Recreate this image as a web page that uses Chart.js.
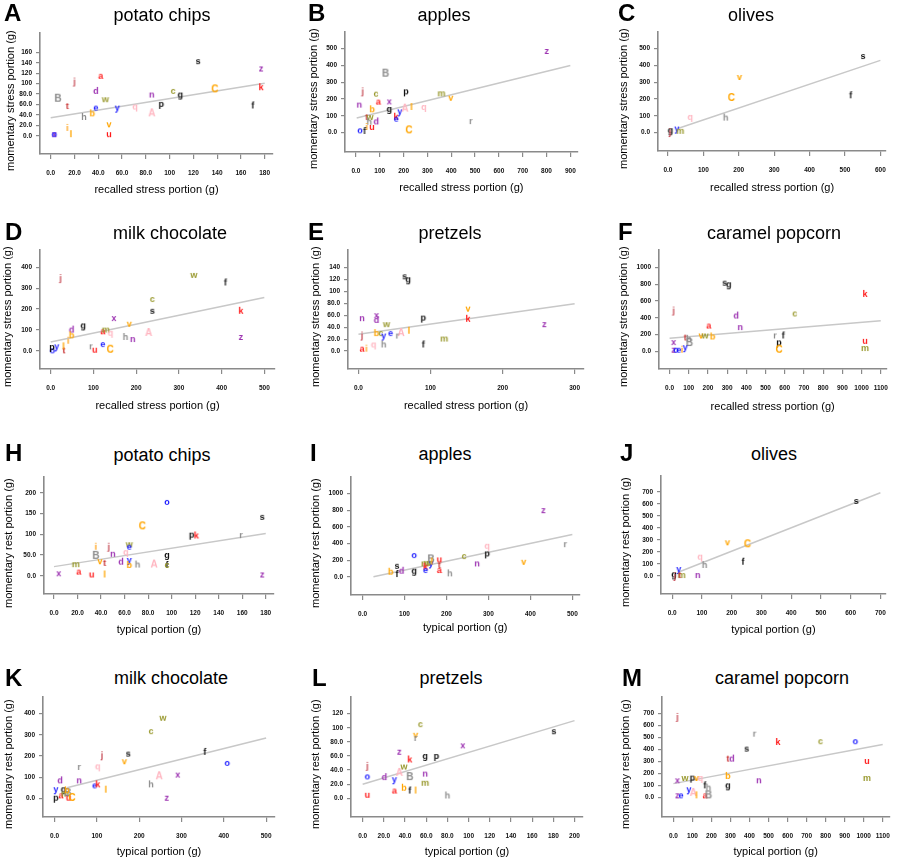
<!DOCTYPE html>
<html>
<head>
<meta charset="utf-8">
<script src="https://cdn.jsdelivr.net/npm/chart.js@4.4.0/dist/chart.umd.min.js"></script>
<style>
body{margin:0;background:#fff;width:898px;height:861px;overflow:hidden;position:relative;font-family:'Liberation Sans',Arial,sans-serif}
canvas{position:absolute}
.ttl{position:absolute;font-size:18px;transform:translate(-50%,-50%);white-space:nowrap;color:#000}
.tag{position:absolute;font-size:24px;font-weight:bold;transform:translateY(-50%);color:#000;line-height:1}
.ytl{position:absolute;width:14px;height:200px;font-size:11px;line-height:14px;white-space:nowrap;color:#000;
     writing-mode:vertical-rl;transform:rotate(180deg);text-align:center}
</style>
</head>
<body>
<script>
// --- data ---
// A: potato chips, recalled stress vs momentary stress
var idsA = ['s','z','k','C','c','g','n','a','j','d','w','B','t','e','y','q','p','f','h','b','A','v','i','l','x','o','u'];
var xA = [124,177,177,138,103,109,85,42,20,38,46,6,14,38,56,71,93,170,28,35,85,49,14,17,3,3,49];
var yA = [143,129,93,89,86,79,79,115,104,86,70,71,57,54,54,56,61,58,36,43,43,22,15,3,3,3,3];
var fitXA = [0,180], fitYA = [34.5,100.5];
var xTicksA = [0,20,40,60,80,100,120,140,160,180];
var yTicksA = [0,20,40,60,80,100,120,140,160];

// B: apples
var idsB = ['z','B','j','c','p','m','v','a','x','n','b','g','y','A','l','q','t','w','h','d','k','e','i','u','o','f','C','r'];
var xB = [801,124,28,84,210,359,398,94,140,14,68,140,184,205,233,285,45,59,56,85,168,169,45,67,17,36,222,482];
var yB = [486,351,246,232,246,234,208,185,186,167,139,141,127,143,153,153,93,93,65,67,95,83,34,34,14,10,14,69];
var fitXB = [3,900], fitYB = [87,400];
var xTicksB = [0,100,200,300,400,500,600,700,800,900];
var yTicksB = [0,100,200,300,400,500];

// C: olives
var idsC = ['s','v','C','f','q','h','y','m','g','j'];
var xC = [551,202,179,516,63,163,25,35,7,6];
var yC = [456,331,206,222,93,89,24,10,14,3];
var fitXC = [28,600], fitYC = [24,430];
var xTicksC = [0,100,200,300,400,500,600];
var yTicksC = [0,100,200,300,400,500];

// D: milk chocolate
var idsD = ['j','w','f','c','s','k','x','g','v','d','a','m','q','b','i','h','n','A','z','e','r','u','C','y','o','p','t','l'];
var xD = [23,335,409,238,238,445,148,76,184,49,122,129,140,49,41,175,192,229,445,122,94,103,139,14,4,3,31,30];
var yD = [348,363,327,248,192,192,157,122,130,102,94,102,87,75,49,67,57,86,67,33,22,6,6,22,3,19,3,22];
var fitXD = [0,500], fitYD = [43,255];
var xTicksD = [0,100,200,300,400,500];
var yTicksD = [0,100,200,300,400];

// E: pretzels
var idsE = ['s','g','v','k','p','z','n','x','d','w','b','c','y','e','A','r','l','j','m','f','q','h','a','i'];
var xE = [64,69,152,152,90,258,5,25,25,39,25,31,35,44.5,59,54,70,5,119,90,21,35,5,11];
var yE = [125,120,71,54,56,45,55,60,52,45,30,30,26,30,30,26,34,26,21,11,11,11,4,4];
var fitXE = [0,300], fitYE = [28,79];
var xTicksE = [0,100,200,300];
var yTicksE = [0,20,40,60,80,100,120,140];

// F: caramel popcorn
var idsF = ['s','g','k','j','c','d','a','n','r','f','t','v','w','b','p','u','x','h','B','y','C','m','z','o','e','i'];
var xF = [287,308,1018,21,652,347,204,368,549,592,82,164,185,224,570,1018,21,100,103,82,570,1018,21,33,48,65];
var yF = [818,798,684,486,451,427,308,289,190,190,166,190,190,178,107,126,111,150,100,51,20,40,20,20,20,20];
var fitXF = [0,1100], fitYF = [158,364];
var xTicksF = [0,100,200,300,400,500,600,700,800,900,1000,1100];
var yTicksF = [0,200,400,600,800,1000];

// H: potato chips, typical vs momentary rest
var idsH = ['o','s','C','p','k','r','i','j','w','e','n','q','B','g','m','v','t','d','y','b','h','A','f','c','x','a','u','l','z'];
var xH = [96,177,75,117,121,159,35.5,46.5,64,64,50,61,35.5,96,18.5,39,43,57,64,64,71,85,96,96,4,21,32,43,177];
var yH = [178,142,119,99,97,98,70,70,76,70,53,57,48,50,28,35,31,34,38,26,27,27,26,26,6,10,3,3,3];
var fitXH = [0,180], fitYH = [22,102];
var xTicksH = [0,20,40,60,80,100,120,140,160,180];
var yTicksH = [0,50,100,150,200];

// I: apples
var idsI = ['z','q','r','o','p','c','u','B','v','n','m','y','w','t','a','k','e','s','d','b','g','f','h','l'];
var xI = [431,297,483,123,297,242,183,163,384,273,149,163,155,183,183,150,150,82,93,67,123,82,208,165];
var yI = [801,374,394,263,283,251,211,211,183,163,163,163,170,143,84,124,84,135,76,64,76,36,44,185];
var fitXI = [26,500], fitYI = [4,510];
var xTicksI = [0,100,200,300,400,500];
var yTicksI = [0,200,400,600,800,1000];

// J: olives
var idsJ = ['s','v','C','q','f','h','y','n','g','j','m','t'];
var xJ = [619,186,253,94,238,109,22,86,6,9,32,25];
var yJ = [625,281,264,161,119,92,58,8,14,0,8,8];
var fitXJ = [20,700], fitYJ = [31,694];
var xTicksJ = [0,100,200,300,400,500,600,700];
var yTicksJ = [0,100,200,300,400,500,600,700];

// K: milk chocolate
var idsK = ['w','c','s','j','f','v','o','r','q','A','x','d','n','h','e','k','l','y','g','z','p','a','m','B','b','u','C'];
var xK = [256,228,174,112,355,165,408,58,102,247,291,13,58,228,94.5,102,121,3,21,265,3,15,25,31,29,33,41];
var yK = [380,317,211,203,219,175,167,148,151,104,112,85,85,66,61,66,41,43,43,3,3,14,22,25,38,3,2];
var fitXK = [29,500], fitYK = [50,285];
var xTicksK = [0,100,200,300,400,500];
var yTicksK = [0,100,200,300,400];

// L: pretzels
var idsL = ['s','c','v','r','x','z','k','g','p','j','w','A','n','o','d','y','B','m','b','a','f','l','h','u'];
var xL = [180.5,54.5,50,50,94.5,34.6,44.4,59,69.6,4.4,39,34.6,59,4.4,20.5,30,44.4,59,39,30,44.4,50,80,4.4];
var yL = [95,105,90,85.5,75,66,55,60,60,46,45,36,35,31,30,27,30,22,15,11,11,11,4,5];
var fitXL = [0,200], fitYL = [20,110];
var xTicksL = [0,20,40,60,80,100,120,140,160,180,200];
var yTicksL = [0,20,40,60,80,100,120];

// M: caramel popcorn
var idsM = ['j','r','k','c','o','s','t','d','u','b','x','w','p','v','q','n','m','f','h','g','y','A','l','a','B','z','e'];
var xM = [21,426,549,773,956,385,286,307,1017,286,21,61,100,121,142,449,1017,165,184,286,81,104,121,166,184,21,40];
var yM = [670,531,462,468,468,407,324,324,304,180,144,163,166,163,163,144,163,102,83,102,69,39,19,19,19,19,19];
var fitXM = [0,1100], fitYM = [116,440];
var xTicksM = [0,100,200,300,400,500,600,700,800,900,1000,1100];
var yTicksM = [0,100,200,300,400,500,600,700];

// participant colours
var colours = {
  a:'#ff1a1a', b:'#ffa500', c:'#99992e', d:'#9b30b0', e:'#1a1aff', f:'#111111', g:'#111111',
  h:'#8c8c8c', i:'#ffa520', j:'#c8505a', k:'#ff1a1a', l:'#ffa500', m:'#99992e', n:'#9b30b0',
  o:'#1a1aff', p:'#111111', q:'#ffb6c1', r:'#8c8c8c', s:'#111111', t:'#c83030', u:'#ff1a1a',
  v:'#ffa500', w:'#99992e', x:'#9b30b0', y:'#1a1aff', z:'#9b30b0', A:'#ffb6c1', B:'#8c8c8c', C:'#ffa500'
};

var stressX = 'recalled stress portion (g)', stressY = 'momentary stress portion (g)';
var restX = 'typical portion (g)', restY = 'momentary rest portion (g)';

// layout per panel (page pixels): plot box, title, axis titles, tag
var panels = [
  {tag:'A', title:'potato chips', ids:idsA, xs:xA, ys:yA, fx:fitXA, fy:fitYA, xt:xTicksA, yt:yTicksA, xr:[-9,187], yr:[-35,197], xl:stressX, yl:stressY,
   g:{L:40,T:33,R:273,B:154,tx:162,ty:15,xty:190,ytx:10,lx:4,ly:13}},
  {tag:'B', title:'apples', ids:idsB, xs:xB, ys:yB, fx:fitXB, fy:fitYB, xt:xTicksB, yt:yTicksB, xr:[-46,931], yr:[-115,599], xl:stressX, yl:stressY,
   g:{L:345,T:32,R:578,B:152,tx:444,ty:15,xty:188,ytx:313,lx:308,ly:13}},
  {tag:'C', title:'olives', ids:idsC, xs:xC, ys:yC, fx:fitXC, fy:fitYC, xt:xTicksC, yt:yTicksC, xr:[-28,616], yr:[-110,599], xl:stressX, yl:stressY,
   g:{L:658,T:32,R:888,B:151,tx:751,ty:15,xty:188,ytx:623,lx:618,ly:13}},
  {tag:'D', title:'milk chocolate', ids:idsD, xs:xD, ys:yD, fx:fitXD, fy:fitYD, xt:xTicksD, yt:yTicksD, xr:[-25,525], yr:[-86,482], xl:stressX, yl:stressY,
   g:{L:40,T:250,R:275,B:369,tx:170,ty:233,xty:406,ytx:7,lx:5,ly:232}},
  {tag:'E', title:'pretzels', ids:idsE, xs:xE, ys:yE, fx:fitXE, fy:fitYE, xt:xTicksE, yt:yTicksE, xr:[-14.5,313], yr:[-30,169], xl:stressX, yl:stressY,
   g:{L:348,T:250,R:584,B:369,tx:450,ty:233,xty:406,ytx:315,lx:308,ly:232}},
  {tag:'F', title:'caramel popcorn', ids:idsF, xs:xF, ys:yF, fx:fitXF, fy:fitYF, xt:xTicksF, yt:yTicksF, xr:[-55,1129], yr:[-209,1206], xl:stressX, yl:stressY,
   g:{L:659,T:250,R:890,B:369,tx:774,ty:233,xty:407,ytx:623,lx:618,ly:232}},
  {tag:'H', title:'potato chips', ids:idsH, xs:xH, ys:yH, fx:fitXH, fy:fitYH, xt:xTicksH, yt:yTicksH, xr:[-8.5,187], yr:[-44,238], xl:restX, yl:restY,
   g:{L:44,T:477,R:274,B:594,tx:162,ty:455,xty:630,ytx:8,lx:5,ly:453}},
  {tag:'I', title:'apples', ids:idsI, xs:xI, ys:yI, fx:fitXI, fy:fitYI, xt:xTicksI, yt:yTicksI, xr:[-27.5,517], yr:[-215,1198], xl:restX, yl:restY,
   g:{L:351,T:477,R:580,B:595,tx:445,ty:454,xty:628,ytx:315,lx:310,ly:453}},
  {tag:'J', title:'olives', ids:idsJ, xs:xJ, ys:yJ, fx:fitXJ, fy:fitYJ, xt:xTicksJ, yt:yTicksJ, xr:[-37.5,718], yr:[-150,833], xl:restX, yl:restY,
   g:{L:661,T:476,R:888,B:594,tx:774,ty:454,xty:630,ytx:625,lx:620,ly:453}},
  {tag:'K', title:'milk chocolate', ids:idsK, xs:xK, ys:yK, fx:fitXK, fy:fitYK, xt:xTicksK, yt:yTicksK, xr:[-27.4,521], yr:[-88,478], xl:restX, yl:restY,
   g:{L:43,T:697,R:275,B:817,tx:171,ty:678,xty:852,ytx:8,lx:5,ly:678}},
  {tag:'L', title:'pretzels', ids:idsL, xs:xL, ys:yL, fx:fitXL, fy:fitYL, xt:xTicksL, yt:yTicksL, xr:[-11,208], yr:[-26.5,143.5], xl:restX, yl:restY,
   g:{L:351,T:697,R:583,B:817,tx:451,ty:678,xty:852,ytx:315,lx:312,ly:678}},
  {tag:'M', title:'caramel popcorn', ids:idsM, xs:xM, ys:yM, fx:fitXM, fy:fitYM, xt:xTicksM, yt:yTicksM, xr:[-60,1135], yr:[-161,835], xl:restX, yl:restY,
   g:{L:662,T:697,R:892,B:817,tx:782,ty:678,xty:852,ytx:625,lx:622,ly:678}}
];

var FONT = "'Liberation Sans', Arial, sans-serif";
var TICKFONT = "'Liberation Sans Narrow', 'Liberation Sans', Arial, sans-serif";
Chart.defaults.font.family = FONT;

function fmt(v) {
  return v < 100 ? v.toFixed(1) : String(v);
}

// letter markers used as point styles
var imgCache = {};
function letterImg(ch) {
  if (imgCache[ch]) return imgCache[ch];
  var c = document.createElement('canvas');
  c.width = 14; c.height = 14;
  var g = c.getContext('2d');
  var upper = ch === ch.toUpperCase();
  g.font = 'bold ' + (upper ? 10 : 9) + 'px ' + FONT;
  g.fillStyle = colours[ch] || '#111';
  g.textAlign = 'center';
  g.textBaseline = 'middle';
  g.fillText(ch, 7, 7.5);
  imgCache[ch] = c;
  return c;
}

function addDiv(cls, text, left, top) {
  var d = document.createElement('div');
  d.className = cls;
  d.textContent = text;
  d.style.left = left + 'px';
  d.style.top = top + 'px';
  document.body.appendChild(d);
  return d;
}

panels.forEach(function (p) {
  var g = p.g;
  var cx = g.L - 30, cy = g.T - 8;
  var cw = g.R + 8 - cx, ch = g.xty + 10 - cy;

  var cv = document.createElement('canvas');
  cv.width = cw; cv.height = ch;
  cv.style.left = cx + 'px';
  cv.style.top = cy + 'px';
  document.body.appendChild(cv);

  addDiv('ttl', p.title, g.tx, g.ty);
  addDiv('tag', p.tag, g.lx, g.ly);
  // vertical axis title in a fixed whole-pixel box so it renders crisp
  addDiv('ytl', p.yl, g.ytx - 7, Math.round((g.T + g.B) / 2 + 7) - 100);

  var pts = p.xs.map(function (x, i) { return {x: x, y: p.ys[i]}; });
  var fit = p.fx.map(function (x, i) { return {x: x, y: p.fy[i]}; });

  new Chart(cv, {
    type: 'scatter',
    data: {
      datasets: [
        {data: pts, pointStyle: p.ids.map(letterImg), pointRadius: 5, order: 1, clip: false},
        {type: 'line', data: fit, showLine: true, borderColor: '#c8c8c8', borderWidth: 1.5, pointRadius: 0, order: 2, clip: false}
      ]
    },
    options: {
      responsive: false,
      animation: false,
      events: [],
      layout: {autoPadding: false, padding: {left: 0, top: 8, right: 8, bottom: 0}},
      plugins: {legend: {display: false}, tooltip: {enabled: false}},
      scales: {
        x: {
          type: 'linear', min: p.xr[0], max: p.xr[1],
          afterBuildTicks: function (s) { s.ticks = p.xt.map(function (v) { return {value: v}; }); },
          afterFit: function (s) { s.height = ch - (g.B - cy); },
          grid: {drawOnChartArea: false, drawTicks: true, tickLength: 5, color: '#8a8a8a', lineWidth: 1.2},
          border: {color: '#8a8a8a', width: 1.6},
          ticks: {autoSkip: false, maxRotation: 0, padding: 10, color: '#111',
                  font: {family: TICKFONT, size: 6.5, weight: 'bold'}, callback: fmt},
          title: {display: true, text: p.xl, color: '#000', font: {family: FONT, size: 11},
                  padding: {top: 0, bottom: (cy + ch) - g.xty - 6.6}}
        },
        y: {
          type: 'linear', min: p.yr[0], max: p.yr[1],
          afterBuildTicks: function (s) { s.ticks = p.yt.map(function (v) { return {value: v}; }); },
          afterFit: function (s) { s.width = g.L - cx; },
          grid: {drawOnChartArea: false, drawTicks: true, tickLength: 4, color: '#8a8a8a', lineWidth: 1.2},
          border: {color: '#8a8a8a', width: 1.6},
          ticks: {autoSkip: false, padding: 4, color: '#111',
                  font: {family: TICKFONT, size: 6.5, weight: 'bold'}, callback: fmt},
          title: {display: false}
        }
      }
    }
  });
});
</script>
</body>
</html>
